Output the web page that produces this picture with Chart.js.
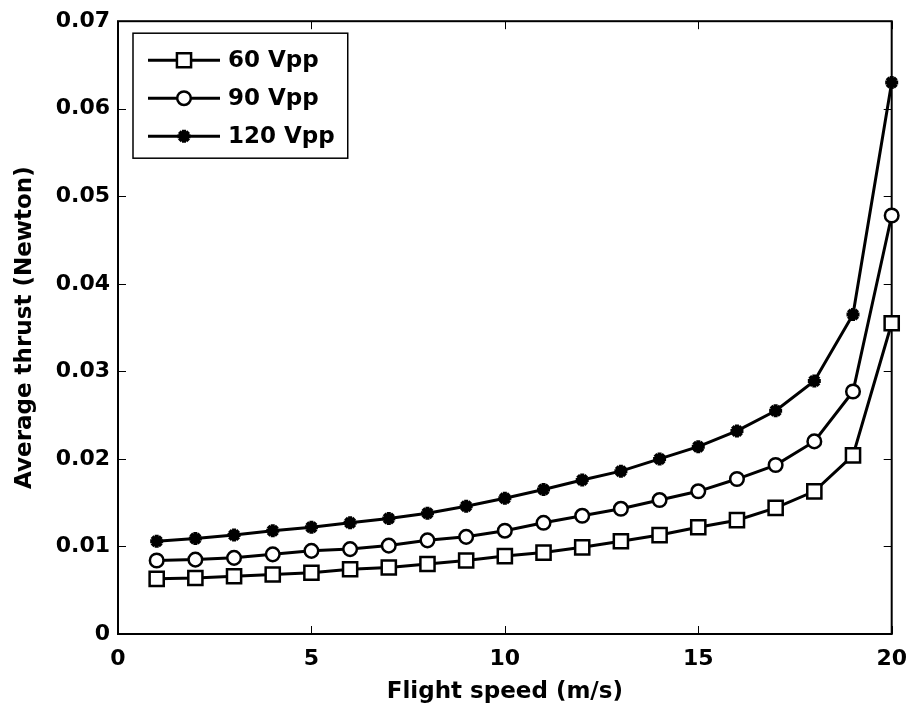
<!DOCTYPE html>
<html>
<head>
<meta charset="utf-8">
<script src="https://cdn.jsdelivr.net/npm/chart.js@4/dist/chart.umd.min.js"></script>
<style>
  html, body { margin: 0; padding: 0; background: #fff; }
  #wrap { position: relative; width: 919px; height: 713px; }
</style>
</head>
<body>
<div id="wrap"><canvas id="chart"></canvas></div>
<script>
  // ---------- data ----------
  var speeds = [1, 2, 3, 4, 5, 6, 7, 8, 9, 10, 11, 12, 13, 14, 15, 16, 17, 18, 19, 20];

  var thrust60 = [0.0063, 0.0064, 0.0066, 0.0068, 0.0070, 0.0074, 0.0076, 0.0080, 0.0084, 0.0089,
                  0.0093, 0.0099, 0.0106, 0.0113, 0.0122, 0.0130, 0.0144, 0.0163, 0.0204, 0.0355];
  var thrust90 = [0.0084, 0.0085, 0.0087, 0.0091, 0.0095, 0.0097, 0.0101, 0.0107, 0.0111, 0.0118,
                  0.0127, 0.0135, 0.0143, 0.0153, 0.0163, 0.0177, 0.0193, 0.0220, 0.0277, 0.0478];
  var thrust120 = [0.0106, 0.0109, 0.0113, 0.0118, 0.0122, 0.0127, 0.0132, 0.0138, 0.0146, 0.0155,
                   0.0165, 0.0176, 0.0186, 0.0200, 0.0214, 0.0232, 0.0255, 0.0289, 0.0365, 0.0630];

  var seriesNames = ["60 Vpp", "90 Vpp", "120 Vpp"];
  var xTickLabels = ["0", "5", "10", "15", "20"];
  var yTickLabels = ["0", "0.01", "0.02", "0.03", "0.04", "0.05", "0.06", "0.07"];

  var FONT = "'DejaVu Sans', sans-serif";

  function toPoints(ys) {
    return ys.map(function (v, i) { return { x: speeds[i], y: v }; });
  }

  function makeSet(label, ys, style, radius, markerWidth) {
    return {
      label: label,
      data: toPoints(ys),
      borderColor: "#000",
      borderWidth: 3,
      pointStyle: style,
      pointRadius: radius,
      pointHoverRadius: radius,
      pointBorderWidth: markerWidth,
      pointBorderColor: "#000",
      pointBackgroundColor: style === "star" ? "#000" : "#fff",
      tension: 0,
      fill: false,
      clip: false,
    };
  }

  // ---------- frame with inward ticks on all four sides ----------
  var framePlugin = {
    id: "frame",
    beforeDatasetsDraw: function (chart) {
      var ctx = chart.ctx;
      var a = chart.chartArea;
      var xs = chart.scales.x, ys = chart.scales.y;
      var TL = 8;
      ctx.save();
      ctx.strokeStyle = "#000";
      ctx.lineWidth = 1;
      xs.ticks.forEach(function (t, i) {
        var px = Math.round(xs.getPixelForTick(i)) + 0.5;
        ctx.beginPath();
        ctx.moveTo(px, a.bottom); ctx.lineTo(px, a.bottom - TL);
        ctx.moveTo(px, a.top); ctx.lineTo(px, a.top + TL);
        ctx.stroke();
      });
      ys.ticks.forEach(function (t, i) {
        var py = Math.round(ys.getPixelForTick(i)) + 0.5;
        ctx.beginPath();
        ctx.moveTo(a.left, py); ctx.lineTo(a.left + TL, py);
        ctx.moveTo(a.right, py); ctx.lineTo(a.right - TL, py);
        ctx.stroke();
      });
      ctx.lineWidth = 2;
      ctx.strokeRect(a.left, a.top, a.right - a.left, a.bottom - a.top);
      ctx.restore();
    },
  };

  // ---------- boxed legend, line through marker ----------
  var legendPlugin = {
    id: "boxLegend",
    afterDraw: function (chart) {
      var ctx = chart.ctx;
      var a = chart.chartArea;
      var x0 = a.left + 15, y0 = a.top + 12;
      var rowH = 38;
      ctx.save();
      ctx.font = "bold 23px " + FONT;
      var maxW = 0;
      chart.data.datasets.forEach(function (ds) {
        maxW = Math.max(maxW, ctx.measureText(ds.label).width);
      });
      var w = 95 + maxW + 13;
      var h = rowH * chart.data.datasets.length + 11;
      ctx.fillStyle = "#fff";
      ctx.fillRect(x0, y0, w, h);
      ctx.strokeStyle = "#000";
      ctx.lineWidth = 1.5;
      ctx.strokeRect(x0, y0, w, h);
      chart.data.datasets.forEach(function (ds, i) {
        var cy = y0 + 27 + i * rowH;
        ctx.strokeStyle = "#000";
        ctx.lineWidth = ds.borderWidth;
        ctx.beginPath();
        ctx.moveTo(x0 + 15, cy);
        ctx.lineTo(x0 + 87, cy);
        ctx.stroke();
        ctx.lineWidth = ds.pointBorderWidth;
        ctx.fillStyle = ds.pointBackgroundColor;
        Chart.helpers.drawPoint(ctx, {
          pointStyle: ds.pointStyle,
          radius: ds.pointRadius,
          rotation: 0,
          borderWidth: ds.pointBorderWidth,
        }, x0 + 51, cy);
        ctx.fillStyle = "#000";
        ctx.textAlign = "left";
        ctx.textBaseline = "middle";
        ctx.fillText(ds.label, x0 + 95, cy + 1);
      });
      ctx.restore();
    },
  };

  var ctx = document.getElementById("chart").getContext("2d");
  new Chart(ctx, {
    type: "line",
    data: {
      datasets: [
        makeSet(seriesNames[0], thrust60, "rect", 10, 2.5),
        makeSet(seriesNames[1], thrust90, "circle", 6.8, 2.5),
        makeSet(seriesNames[2], thrust120, "star", 6.5, 4),
      ],
    },
    options: {
      responsive: true,
      maintainAspectRatio: false,
      animation: false,
      events: [],
      layout: { padding: { top: 20, right: 21, left: 0, bottom: 0 } },
      plugins: { legend: { display: false }, tooltip: { enabled: false } },
      scales: {
        x: {
          type: "linear",
          min: 0,
          max: 20,
          grid: { display: false, drawTicks: false },
          border: { display: false },
          ticks: {
            stepSize: 5,
            padding: 12,
            color: "#000",
            font: { family: FONT, size: 22, weight: "bold" },
            callback: function (v, i) { return xTickLabels[i]; },
          },
          title: {
            display: true,
            text: "Flight speed (m/s)",
            color: "#000",
            font: { family: FONT, size: 23, weight: "bold" },
            padding: { top: 0, bottom: 7 },
          },
          afterFit: function (s) { s.height = 79; },
        },
        y: {
          min: 0,
          max: 0.07,
          grid: { display: false, drawTicks: false },
          border: { display: false },
          ticks: {
            stepSize: 0.01,
            padding: 8,
            color: "#000",
            font: { family: FONT, size: 22, weight: "bold" },
            callback: function (v, i) { return yTickLabels[i]; },
          },
          title: {
            display: true,
            text: "Average thrust (Newton)",
            color: "#000",
            font: { family: FONT, size: 23, weight: "bold" },
            padding: { top: 11, bottom: 0 },
          },
          afterFit: function (s) { s.width = 118; },
        },
      },
    },
    plugins: [framePlugin, legendPlugin],
  });
</script>
</body>
</html>
